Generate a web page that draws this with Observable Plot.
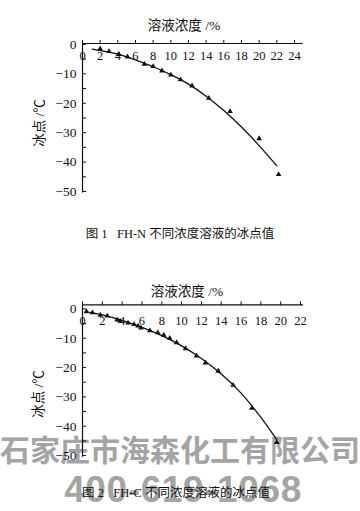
<!DOCTYPE html>
<html>
<head>
<meta charset="utf-8">
<script src="https://cdn.jsdelivr.net/npm/d3@7"></script>
<script src="https://cdn.jsdelivr.net/npm/@observablehq/plot@0.6"></script>
<style>
  html, body { margin: 0; padding: 0; background: #fff; }
  #wrap { position: relative; width: 360px; height: 511px; overflow: hidden; background: #fff; }
  .t { position: absolute; white-space: nowrap; color: #111; transform: translate(-50%, -50%); font-family: "Liberation Serif", "Noto Sans CJK SC", serif; }
  .wm { position: absolute; white-space: nowrap; color: #a4a4a4; transform: translate(-50%, -50%); font-weight: bold; }
  .chart { position: absolute; left: 0; }
  .chart svg { background: transparent !important; overflow: visible; }
</style>
</head>
<body>
<div id="wrap">
  <div class="wm" style="left:180px; top:448px; font-size:30px; font-family:'Noto Sans CJK SC', sans-serif;">石家庄市海森化工有限公司</div>
  <div class="wm" style="left:183px; top:490px; font-size:37px; letter-spacing:0.6px; font-family:'Liberation Sans', Arial, sans-serif;">400-619-1068</div>
  <div id="c1" class="chart" style="top:0px;"></div>
  <div id="c2" class="chart" style="top:250px;"></div>
  <div class="t" style="left:184px; top:24px; font-size:13.5px;">溶液浓度 /%</div>
  <div class="t" style="left:38px; top:123px; font-size:13.5px; transform: translate(-50%, -50%) rotate(-90deg);">冰点 /℃</div>
  <div class="t" style="left:180px; top:232px; font-size:12.5px;">图 1&nbsp;&nbsp; FH-N 不同浓度溶液的冰点值</div>
  <div class="t" style="left:187px; top:290px; font-size:13.5px;">溶液浓度 /%</div>
  <div class="t" style="left:37px; top:394px; font-size:13.5px; transform: translate(-50%, -50%) rotate(-90deg);">冰点 /℃</div>
  <div class="t" style="left:176px; top:491px; font-size:12.5px;">图 2&nbsp;&nbsp; FH-C 不同浓度溶液的冰点值</div>
</div>
<script>
// ---------- Data: Figure 1 (FH-N) ----------
const n_conc  = [2.0, 3.0, 4.1, 5.1, 7.0, 8.0, 9.0, 10.0, 11.1, 12.4, 14.3, 16.7, 20.0, 22.2];
const n_freeze = [-1.5, -2.4, -3.4, -4.2, -6.7, -7.5, -9.0, -10.4, -12.0, -14.1, -18.3, -22.8, -32.0, -44.2];
const n_fitX = [1.1, 4, 6, 8, 10, 12, 14, 16, 18, 20, 22];
const n_fitY = [-1.6, -3.3, -5.3, -7.6, -10.3, -13.5, -17.6, -22.5, -28.1, -34.4, -41.3];
const n_xTicks = [0, 2, 4, 6, 8, 10, 12, 14, 16, 18, 20, 22, 24];

// ---------- Data: Figure 2 (FH-C) ----------
const c_conc = [0.4, 1.0, 1.8, 2.5, 3.5, 3.8, 4.6, 5.2, 5.6, 5.9, 6.8, 7.6, 8.2, 8.8, 9.5, 10.4, 11.5, 12.4, 13.7, 15.2, 17.1, 19.6];
const c_freeze = [-0.9, -1.3, -2.1, -2.4, -3.7, -4.2, -4.8, -5.3, -5.8, -6.5, -7.4, -8.1, -8.9, -10.0, -11.5, -13.5, -16.0, -18.4, -21.2, -26.0, -33.8, -45.5];
const c_fitX = [0.3, 2, 4, 6, 8, 10, 12, 14, 16, 18, 19.6];
const c_fitY = [-0.9, -2.0, -3.9, -6.3, -9.1, -12.6, -16.9, -22.2, -28.7, -37.0, -44.6];
const c_xTicks = [0, 2, 4, 6, 8, 10, 12, 14, 16, 18, 20, 22];

// ---------- Shared y ticks ----------
const yMajor = [0, -10, -20, -30, -40, -50];
const yMinor = [-5, -15, -25, -35, -45];

const numFont = "Liberation Serif, Times New Roman, serif";

function makeChart({conc, freeze, fitX, fitY, xTicks, xDomain, yDomain, height, mt, mb, ml, mr, labelDy}) {
  const pts = conc.map((x, i) => ({x, y: freeze[i]}));
  const fit = fitX.map((x, i) => ({x, y: fitY[i]}));
  const innerW = 360 - ml - mr;
  return Plot.plot({
    width: 360,
    height,
    marginTop: mt,
    marginBottom: mb,
    marginLeft: ml,
    marginRight: mr,
    style: {background: "transparent", fontFamily: numFont, color: "#111", overflow: "visible"},
    x: {domain: xDomain, axis: null},
    y: {domain: yDomain, axis: null},
    marks: [
      Plot.ruleX([xDomain[0]], {stroke: "#111", strokeWidth: 1.2}),
      Plot.ruleY([yDomain[1]], {stroke: "#111", strokeWidth: 1.2}),
      Plot.axisX({anchor: "top", ticks: xTicks, tickSize: 4, tickFormat: () => "", label: null, stroke: "#111"}),
      Plot.text(xTicks, {x: d => d, frameAnchor: "top", dy: labelDy, lineAnchor: "top", fontSize: 12.5, fontFamily: numFont, fill: "#111"}),
      Plot.axisY({anchor: "left", ticks: yMajor, tickSize: 0, tickPadding: 6, label: null, fontSize: 13.5, fontFamily: numFont, fill: "#111"}),
      Plot.tickY(yMajor.concat(yMinor), {y: d => d, insetRight: innerW - 4, stroke: "#111", strokeWidth: 1}),
      Plot.line(fit, {x: "x", y: "y", curve: "natural", stroke: "#111", strokeWidth: 1.3}),
      Plot.dot(pts, {x: "x", y: "y", symbol: "triangle", r: 2.1, fill: "#111", stroke: "none"})
    ]
  });
}

document.getElementById("c1").appendChild(makeChart({
  conc: n_conc, freeze: n_freeze, fitX: n_fitX, fitY: n_fitY, xTicks: n_xTicks,
  xDomain: [0, 25], yDomain: [-50.5, 0.3], height: 200, mt: 43, mb: 7.5, ml: 82, mr: 57.2, labelDy: 8
}));
document.getElementById("c2").appendChild(makeChart({
  conc: c_conc, freeze: c_freeze, fitX: c_fitX, fitY: c_fitY, xTicks: c_xTicks,
  xDomain: [0, 22.3], yDomain: [-50.6, 1.4], height: 220, mt: 54.3, mb: 13.2, ml: 82, mr: 57, labelDy: 11
}));
</script>
</body>
</html>
